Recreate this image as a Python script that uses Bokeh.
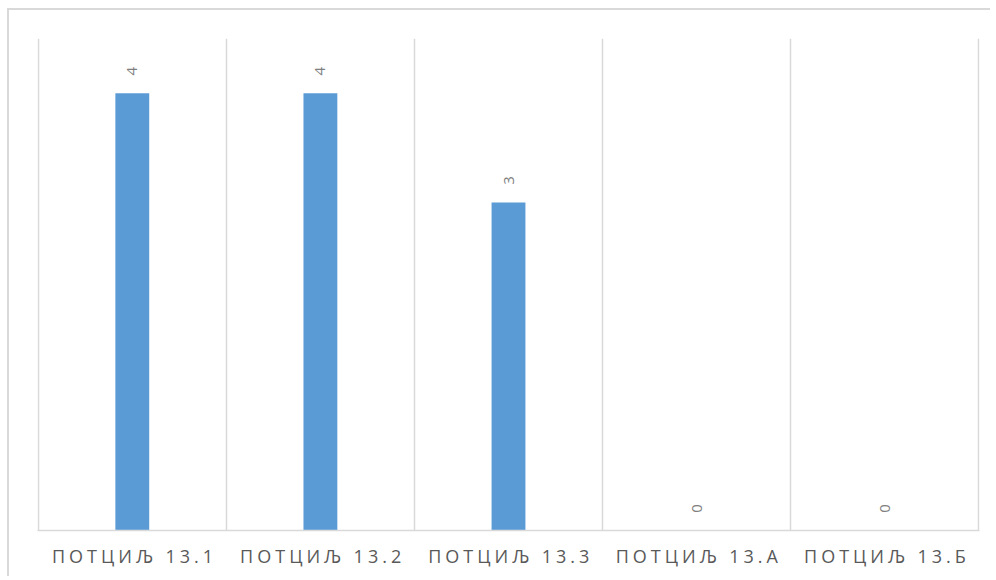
import math
from bokeh.plotting import figure
from bokeh.models import Range1d, FixedTicker
from bokeh.core.properties import value
from bokeh.embed import file_html
from bokeh.resources import INLINE

categories = ["ПОТЦИЉ 13.1", "ПОТЦИЉ 13.2", "ПОТЦИЉ 13.3", "ПОТЦИЉ 13.А", "ПОТЦИЉ 13.Б"]
counts = [4, 4, 3, 0, 0]

xs = [i + 0.5 for i in range(len(categories))]
labels = [str(v) for v in counts]

# letter spacing (css) makes labels wider than Bokeh measures; compensate tick placement
LABEL_SHIFT = 0.105
tick_xs = [x - LABEL_SHIFT for x in xs]

p = figure(frame_width=942, frame_height=492, output_backend="svg", toolbar_location=None,
           x_range=Range1d(-0.004, len(categories) + 0.004), y_range=Range1d(0, 4.5),
           min_border_left=28, min_border_right=11, min_border_top=28, min_border_bottom=46)
p.styles = {"border-top": "2px solid #d9d9d9", "border-left": "2px solid #d9d9d9",
            "letter-spacing": "4px", "margin-left": "7px", "margin-top": "8px"}
p.outline_line_color = None
p.background_fill_color = "white"
p.border_fill_color = "white"

p.vbar(x=xs, top=counts, width=0.18, fill_color="#5B9BD5", line_color=None)

p.text(x=xs, y=counts, text=labels, angle=math.pi / 2, text_align="center",
       text_baseline="middle", y_offset=-22, text_font=value("Open Sans"),
       text_font_size="15px", text_color="#7f7f7f")

p.yaxis.visible = False
p.ygrid.visible = False

p.xgrid.ticker = FixedTicker(ticks=list(range(len(categories) + 1)))
p.xgrid.grid_line_color = "#d9d9d9"
p.xgrid.grid_line_width = 1.5

xa = p.xaxis[0]
xa.ticker = FixedTicker(ticks=tick_xs)
xa.major_label_overrides = {x: c for x, c in zip(tick_xs, categories)}
xa.axis_line_color = "#d9d9d9"
xa.axis_line_width = 1.5
xa.major_tick_line_color = None
xa.minor_tick_line_color = None
xa.major_label_text_font = "Open Sans"
xa.major_label_text_font_size = "18px"
xa.major_label_text_color = "#595959"
xa.major_label_standoff = 7

open("out.html", "w").write(file_html(p, INLINE))
